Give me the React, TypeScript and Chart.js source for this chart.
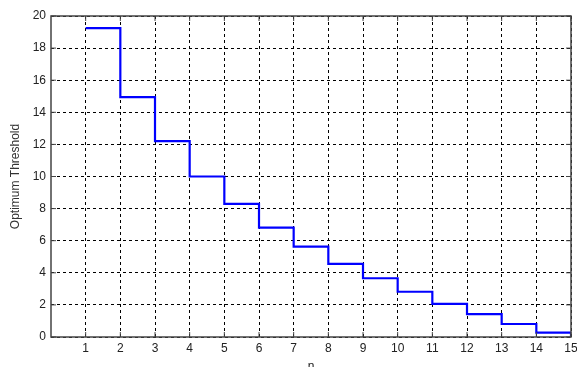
import React, { useEffect, useRef } from "react";
import { Chart, registerables } from "chart.js";

Chart.register(...registerables);

const nValues = [1, 2, 3, 4, 5, 6, 7, 8, 9, 10, 11, 12, 13, 14, 15];
const thresholds = [19.25, 14.95, 12.2, 10.0, 8.29, 6.81, 5.63, 4.55, 3.66, 2.82, 2.06, 1.43, 0.81, 0.27, 0.0];
const xTickValues = [1, 2, 3, 4, 5, 6, 7, 8, 9, 10, 11, 12, 13, 14, 15];
const yTickValues = [0, 2, 4, 6, 8, 10, 12, 14, 16, 18, 20];

const FONT = "'Liberation Sans', Arial, sans-serif";

const boxPlugin = {
  id: "boxPlugin",
  afterDraw(chart: any) {
    const { ctx, chartArea } = chart;
    ctx.save();
    ctx.strokeStyle = "#444";
    ctx.lineWidth = 1.5;
    ctx.setLineDash([]);
    ctx.strokeRect(chartArea.left, chartArea.top, chartArea.right - chartArea.left, chartArea.bottom - chartArea.top);
    ctx.lineWidth = 1;
    const xs = chart.scales.x;
    const ys = chart.scales.y;
    xTickValues.forEach((v) => {
      const px = xs.getPixelForValue(v);
      ctx.beginPath();
      ctx.moveTo(px, chartArea.bottom);
      ctx.lineTo(px, chartArea.bottom - 5);
      ctx.moveTo(px, chartArea.top);
      ctx.lineTo(px, chartArea.top + 5);
      ctx.stroke();
    });
    yTickValues.forEach((v) => {
      const py = ys.getPixelForValue(v);
      ctx.beginPath();
      ctx.moveTo(chartArea.left, py);
      ctx.lineTo(chartArea.left + 5, py);
      ctx.moveTo(chartArea.right, py);
      ctx.lineTo(chartArea.right - 5, py);
      ctx.stroke();
    });
    ctx.restore();
  },
};

export default function App() {
  const ref = useRef<HTMLCanvasElement>(null);
  useEffect(() => {
    document.body.style.margin = "0";
    const chart = new Chart(ref.current!, {
      type: "line",
      data: {
        datasets: [
          {
            data: nValues.map((n, i) => ({ x: n, y: thresholds[i] })),
            borderColor: "#0000ff",
            borderWidth: 2.2,
            pointRadius: 0,
            stepped: true,
            fill: false,
          },
        ],
      },
      options: {
        animation: false,
        responsive: false,
        layout: { padding: { top: 16, right: 6, left: 0, bottom: 0 } },
        plugins: { legend: { display: false }, tooltip: { enabled: false } },
        scales: {
          x: {
            type: "linear",
            min: 0,
            max: 15,
            afterBuildTicks: (s: any) => {
              s.ticks = xTickValues.map((v) => ({ value: v }));
            },
            afterFit: (s: any) => {
              s.height = 30;
              s.paddingLeft = 0;
              s.paddingRight = 0;
            },
            ticks: { color: "#222", font: { family: FONT, size: 12 }, padding: 4, maxRotation: 0, autoSkip: false },
            grid: { color: "#000", lineWidth: 1, drawTicks: false, tickLength: 0 },
            border: { display: false, dash: [3, 3] },
            title: { display: true, text: "n", color: "#222", font: { family: FONT, size: 12 }, padding: { top: 0, bottom: -7 } },
          },
          y: {
            min: 0,
            max: 20,
            afterBuildTicks: (s: any) => {
              s.ticks = yTickValues.map((v) => ({ value: v }));
            },
            afterFit: (s: any) => {
              s.width = 51;
              s.paddingTop = 0;
              s.paddingBottom = 0;
            },
            ticks: { color: "#222", font: { family: FONT, size: 12 }, padding: 5 },
            grid: { color: "#000", lineWidth: 1, drawTicks: false, tickLength: 0 },
            border: { display: false, dash: [3, 3] },
            title: { display: true, text: "Optimum Threshold", color: "#333", font: { family: FONT, size: 12 }, padding: { top: 8, bottom: 0 } },
          },
        },
      },
      plugins: [boxPlugin],
    });
    return () => chart.destroy();
  }, []);
  return <canvas ref={ref} width={577} height={367} style={{ display: "block" }} />;
}
